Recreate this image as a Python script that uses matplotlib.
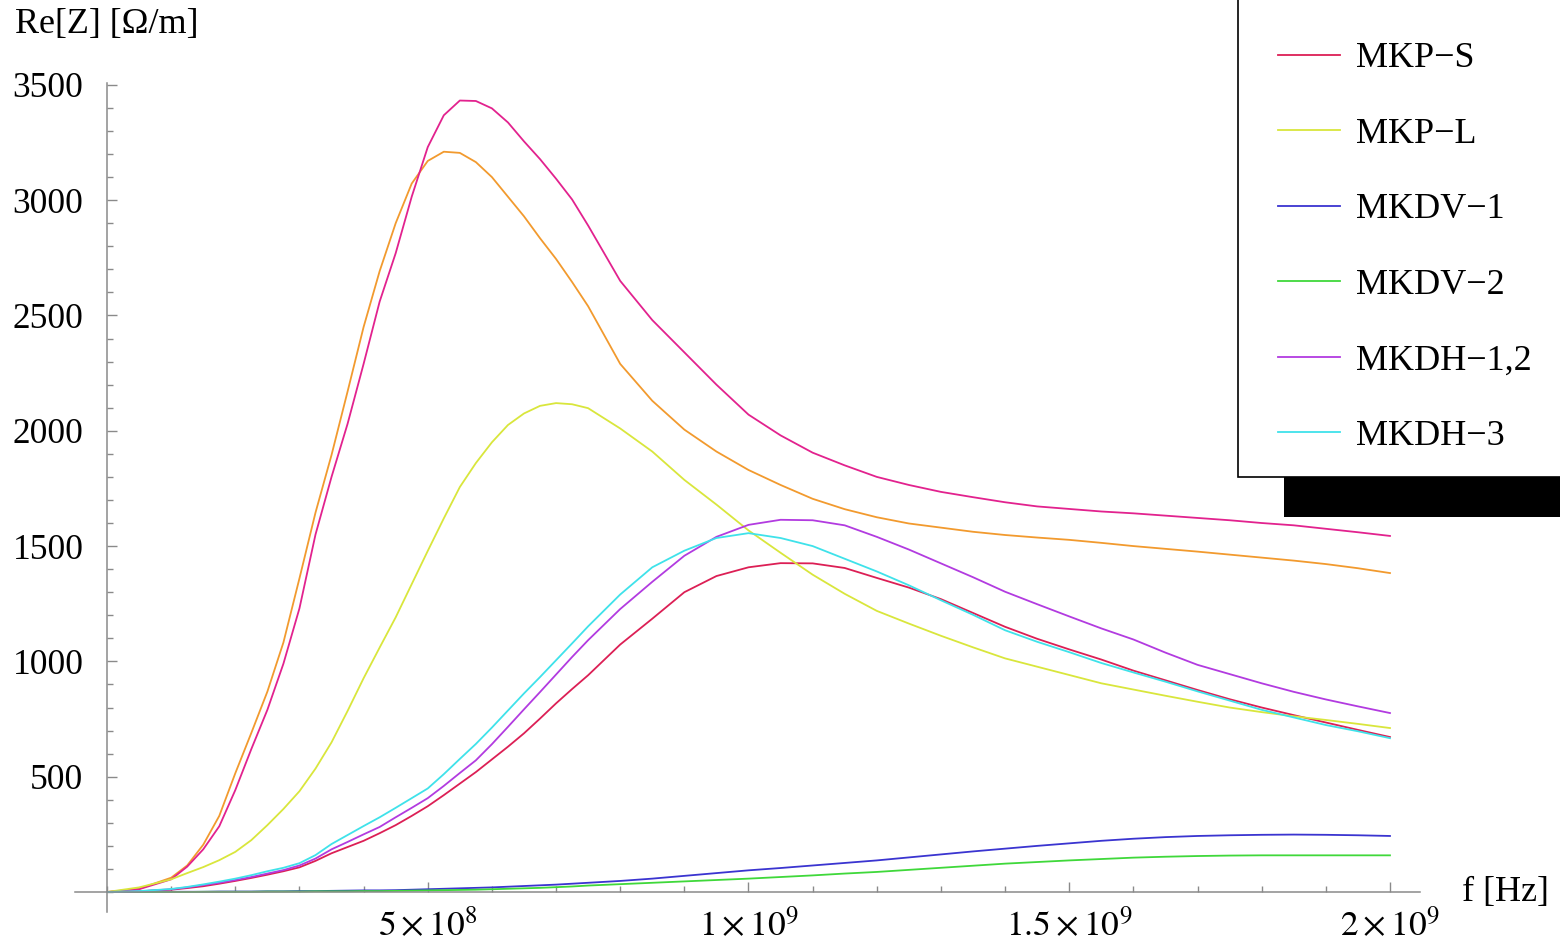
import matplotlib
matplotlib.use("Agg")
import matplotlib.pyplot as plt
from matplotlib.patches import Rectangle
from matplotlib.ticker import FixedLocator, MultipleLocator, FixedFormatter

plt.rcParams['font.family'] = ['Liberation Serif', 'DejaVu Serif']
plt.rcParams['mathtext.fontset'] = 'stix'

# frequency in units of 1e8 Hz (denser around the steep rise and the peaks)
f_1e8 = [0, 0.5, 1, 1.25, 1.5, 1.75, 2, 2.25,
         2.5, 2.75, 3, 3.25, 3.5, 3.75, 4, 4.25, 4.5, 4.75, 5, 5.25, 5.5, 5.75, 6,
         6.25, 6.5, 6.75, 7, 7.25, 7.5,
         8, 8.5, 9, 9.5, 10, 10.5, 11, 11.5, 12, 12.5, 13, 13.5, 14, 14.5, 15, 15.5,
         16, 16.5, 17, 17.5, 18, 18.5, 19, 19.5, 20]

# Re[Z] in Ohm/m
curve_pink = [0, 12, 55, 110, 185, 285, 442, 620,
              790, 990, 1230, 1550, 1800, 2030, 2290, 2560, 2770, 3015, 3230, 3368, 3432,
              3430, 3398, 3337, 3255, 3178, 3093, 3003, 2890,
              2650, 2480, 2340, 2200, 2070, 1980, 1905, 1850, 1800, 1765, 1735, 1712,
              1690, 1672, 1661, 1650, 1642, 1632, 1622, 1612, 1600, 1590, 1575, 1560, 1544]
curve_orange = [0, 14, 62, 115, 205, 330, 515, 690,
                869, 1082, 1360, 1645, 1895, 2170, 2450, 2692, 2900, 3072, 3170, 3210, 3205,
                3165, 3100, 3015, 2930, 2835, 2745, 2645, 2540,
                2290, 2130, 2005, 1910, 1830, 1765, 1705, 1660, 1625, 1598, 1580, 1562,
                1548, 1537, 1527, 1514, 1500, 1488, 1476, 1463, 1450, 1437, 1422, 1404, 1383]
mkp_s = [0, 3, 10, 17, 25, 36, 48, 61,
         75, 90, 107, 135, 168, 195, 222, 255, 290, 330, 372, 420, 470, 520, 575,
         630, 688, 752, 818, 880, 940,
         1073, 1185, 1300, 1370, 1408, 1426, 1425, 1405, 1362, 1320, 1270, 1210, 1150,
         1098, 1052, 1008, 960, 918, 876, 836, 800, 767, 735, 703, 672]
mkp_l = [0, 20, 55, 82, 108, 138, 174, 225,
         290, 360, 437, 535, 649, 785, 927, 1060, 1191, 1335, 1479, 1620, 1756, 1860, 1950,
         2025, 2075, 2108, 2120, 2115, 2098,
         2010, 1910, 1787, 1680, 1568, 1471, 1376, 1293, 1219, 1164, 1111, 1061, 1013,
         977, 941, 905, 878, 851, 825, 800, 780, 762, 746, 729, 711]
mkdv_1 = [0, 0, 1, 1, 1, 2, 2, 2,
          3, 3, 4, 4, 5, 6, 7, 7, 8, 10, 12, 14, 16, 18, 20,
          23, 26, 29, 32, 36, 40,
          48, 58, 70, 82, 94, 104, 115, 126, 137, 150, 163, 176, 188, 200, 211, 222,
          231, 238, 243, 246, 248, 249, 248, 246, 243]
mkdv_2 = [0, 0, 0, 0, 1, 1, 1, 1,
          2, 2, 2, 3, 3, 3, 4, 4, 5, 6, 7, 8, 9, 10, 12,
          14, 16, 18, 21, 24, 28,
          34, 40, 46, 52, 58, 65, 72, 80, 87, 96, 105, 114, 123, 130, 137, 143,
          149, 153, 156, 158, 159, 159, 159, 159, 159]
mkdh_12 = [0, 3, 12, 20, 30, 40, 52, 65,
           80, 95, 115, 145, 185, 217, 250, 282, 324, 365, 407, 460, 516, 571, 641,
           716, 792, 867, 943, 1019, 1092,
           1227, 1345, 1458, 1540, 1592, 1614, 1612, 1590, 1540, 1485, 1425, 1365, 1302,
           1248, 1195, 1143, 1095, 1038, 985, 945, 905, 868, 835, 805, 776]
mkdh_3 = [0, 4, 13, 22, 33, 45, 58, 73,
          90, 105, 125, 160, 208, 247, 286, 324, 365, 407, 449, 511, 577, 642, 713,
          787, 861, 932, 1005, 1078, 1152,
          1290, 1408, 1480, 1535, 1556, 1535, 1500, 1445, 1390, 1330, 1265, 1202, 1135,
          1085, 1040, 993, 952, 912, 870, 830, 790, 757, 724, 697, 667]

legend_names = ['MKP\u2212S', 'MKP\u2212L', 'MKDV\u22121', 'MKDV\u22122', 'MKDH\u22121,2', 'MKDH\u22123']
legend_colors = ['#DC1F55', '#D9E63C', '#3A34D0', '#3FD83A', '#B23BE0', '#3FE2EA']

freq = [v * 1e8 for v in f_1e8]

fig = plt.figure(figsize=(15.6, 9.49), dpi=100)
W, H = 1560, 949
ax = fig.add_axes([75 / W, 1 - 912 / H, (1420 - 75) / W, (912 - 83) / H])
ax.set_xlim(-0.499e8, 2.0468e9)
ax.set_ylim(-86.7, 3508)

lw = 1.3
ax.plot(freq, curve_orange, color='#F29A2E', lw=lw)
ax.plot(freq, curve_pink, color='#E2228E', lw=lw)
series = [mkp_s, mkp_l, mkdv_1, mkdv_2, mkdh_12, mkdh_3]
handles = []
for vals, col in zip(series, legend_colors):
    ln, = ax.plot(freq, vals, color=col, lw=lw)
    handles.append(ln)

# Mathematica-like crossing axes
for s in ['top', 'right']:
    ax.spines[s].set_visible(False)
ax.spines['left'].set_position(('data', 0))
ax.spines['bottom'].set_position(('data', 0))
for s in ['left', 'bottom']:
    ax.spines[s].set_color('#8a8a8a')
    ax.spines[s].set_linewidth(1.1)

ax.xaxis.set_major_locator(FixedLocator([5e8, 1e9, 1.5e9, 2e9]))
ax.xaxis.set_major_formatter(FixedFormatter([r'$5\times10^{8}$', r'$1\times10^{9}$',
                                             r'$1.5\times10^{9}$', r'$2\times10^{9}$']))
ax.xaxis.set_minor_locator(MultipleLocator(1e8))
ax.yaxis.set_major_locator(FixedLocator([500, 1000, 1500, 2000, 2500, 3000, 3500]))
ax.yaxis.set_minor_locator(MultipleLocator(100))

ax.tick_params(which='both', direction='in', color='#8a8a8a', width=1.0, labelsize=25.5)
ax.tick_params(which='major', length=7)
ax.tick_params(which='minor', length=4)
ax.tick_params(axis='y', which='major', pad=17)
ax.tick_params(axis='x', which='major', pad=12)

fig.text(15 / W, 1 - 25 / H, 'Re[Z] [\u03a9/m]', fontsize=26, ha='left', va='center')
fig.text(1462 / W, 1 - 892 / H, 'f [Hz]', fontsize=26, ha='left', va='center')

# legend box (top runs off the figure) with its black shadow
fig.patches.append(Rectangle((1284 / W, 1 - 517 / H), 400 / W, 40 / H,
                             transform=fig.transFigure, facecolor='black',
                             edgecolor='none', zorder=2))
fig.patches.append(Rectangle((1238 / W, 1 - 477 / H), 400 / W, 500 / H,
                             transform=fig.transFigure, facecolor='white',
                             edgecolor='black', lw=1.2, zorder=3))
fig.legend(handles, legend_names, loc='upper left',
           bbox_to_anchor=(1278 / W, 1 - 42 / H), bbox_transform=fig.transFigure,
           frameon=False, fontsize=26, borderpad=0, borderaxespad=0,
           handlelength=1.72, handletextpad=0.44, labelspacing=1.17)

fig.savefig('out.png', dpi=100)
